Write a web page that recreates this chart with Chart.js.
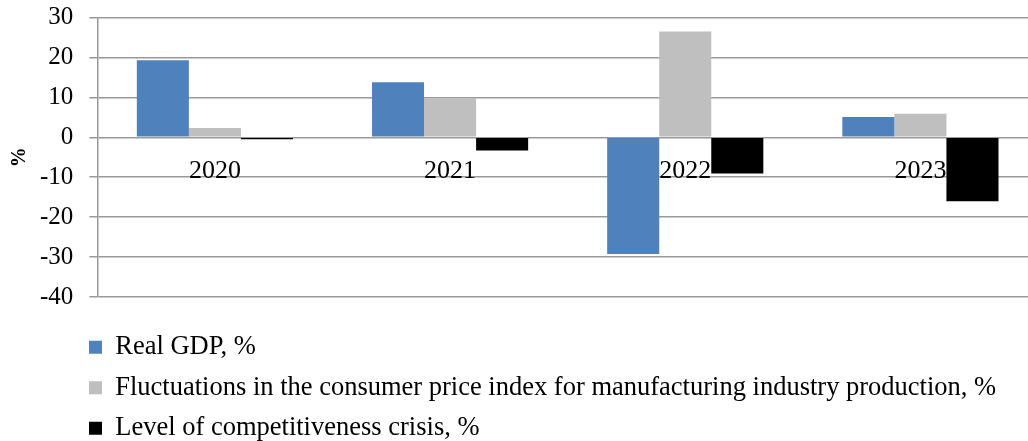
<!DOCTYPE html>
<html>
<head>
<meta charset="utf-8">
<script src="https://cdn.jsdelivr.net/npm/chart.js@4/dist/chart.umd.min.js"></script>
<style>
  html, body { margin: 0; padding: 0; background: #ffffff; overflow: hidden; }
  #wrap { position: relative; width: 1040px; height: 441px; }
</style>
</head>
<body>
<div id="wrap"><canvas id="chart"></canvas></div>
<script>
// Years on the category axis
const years = ['2020', '2021', '2022', '2023'];

// Series values, % (year-on-year)
const realGdp = [19.3, 13.8, -29.2, 5.1];
const cpiManufacturing = [2.3, 9.8, 26.5, 5.9];
const competitivenessCrisis = [-0.5, -3.3, -9.1, -16.0];

// Series names shown in the legend
const seriesNames = [
  'Real GDP, %',
  'Fluctuations in the consumer price index for manufacturing industry production, %',
  'Level of competitiveness crisis, %'
];

// Value axis range and the axis title
const yMin = -40;
const yMax = 30;
const yStep = 10;
const yTitle = '%';

const serif = "'Liberation Serif', 'Times New Roman', serif";
const gridColor = '#9a9a9a';

// Moves the legend block so its rows start under the plot's left edge
const legendPlacement = {
  id: 'legendPlacement',
  afterLayout(chart) {
    const lg = chart.legend;
    if (!lg) return;
    lg.left = 89 - lg.options.labels.padding;
    const shiftY = 23;
    lg.top += shiftY;
    lg.bottom += shiftY;
  }
};

new Chart(document.getElementById('chart'), {
  type: 'bar',
  data: {
    labels: years,
    datasets: [
      { label: seriesNames[0], data: realGdp, backgroundColor: '#4f81bd' },
      { label: seriesNames[1], data: cpiManufacturing, backgroundColor: '#bfbfbf' },
      { label: seriesNames[2], data: competitivenessCrisis, backgroundColor: '#000000' }
    ]
  },
  options: {
    responsive: true,
    maintainAspectRatio: false,
    animation: false,
    layout: { padding: { top: 17.5, right: 2, bottom: 12.5, left: 0 } },
    datasets: {
      bar: { categoryPercentage: 0.664, barPercentage: 1.0, borderWidth: 0 }
    },
    scales: {
      x: {
        position: { y: 0 },
        grid: { display: false, drawTicks: false },
        border: { display: false },
        ticks: {
          color: '#000000',
          padding: 18,
          maxRotation: 0,
          font: { family: serif, size: 26 }
        }
      },
      y: {
        min: yMin,
        max: yMax,
        ticks: {
          stepSize: yStep,
          color: '#000000',
          padding: 2,
          font: { family: serif, size: 25 }
        },
        grid: {
          color: gridColor,
          lineWidth: 1.5,
          tickLength: 22,
          drawTicks: true,
          // only the 8px next to the axis line is drawn as a tick mark
          tickBorderDash: [8, 14],
          tickBorderDashOffset: 8
        },
        border: { display: true, color: gridColor, width: 1.5 },
        title: {
          display: true,
          text: yTitle,
          color: '#000000',
          font: { family: serif, size: 20, weight: 'bold' },
          padding: { top: 8, bottom: 6 }
        }
      }
    },
    plugins: {
      legend: {
        position: 'bottom',
        align: 'start',
        labels: {
          color: '#000000',
          boxWidth: 13,
          boxHeight: 13,
          padding: 14,
          font: { family: serif, size: 26.5 }
        }
      },
      tooltip: { enabled: false }
    }
  },
  plugins: [legendPlacement]
});
</script>
</body>
</html>
